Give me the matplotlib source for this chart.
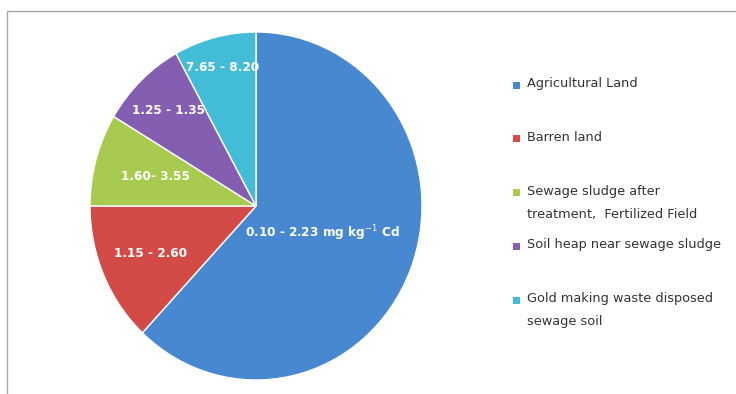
import numpy as np
import matplotlib
matplotlib.use("Agg")
import matplotlib.pyplot as plt
from matplotlib.patches import Rectangle

# data
categories = ["Agricultural Land", "Barren land",
              "Sewage sludge after\ntreatment,  Fertilized Field",
              "Soil heap near sewage sludge",
              "Gold making waste disposed\nsewage soil"]
shares = [62.0, 13.0, 8.6, 8.4, 8.0]
range_labels = ["0.10 - 2.23 mg kg$^{-1}$ Cd", "1.15 - 2.60", "1.60- 3.55",
                "1.25 - 1.35", "7.65 - 8.20"]
colors = ["#4888D0", "#D34B47", "#A8CB4F", "#845FB1", "#42BCD7"]

# how far out each slice label sits (fraction of radius)
label_r = [0.43, 0.69, 0.63, 0.76, 0.82]

W, H = 736, 394
fig = plt.figure(figsize=(W / 100, H / 100), dpi=100)
fig.patch.set_facecolor("white")

# outer chart border (cut off at right and bottom like the source)
fig.patches.append(Rectangle((7 / W, -0.1), 1.2, 1 - 11 / H + 0.1,
                             transform=fig.transFigure, fill=False,
                             edgecolor="#A6A6A6", linewidth=1.0))

# the source pie is slightly stretched vertically
cx, cy, rx, ry = 256, 206, 166, 174
ax = fig.add_axes([(cx - rx) / W, (H - cy - ry) / H, 2 * rx / W, 2 * ry / H])
wedges, _ = ax.pie(shares, colors=colors, startangle=90, counterclock=False,
                   radius=1.0,
                   wedgeprops=dict(edgecolor="white", linewidth=1.0))
ax.set_xlim(-1, 1)
ax.set_ylim(-1, 1)
ax.set_aspect("auto")
ax.axis("off")

for w, lab, rr in zip(wedges, range_labels, label_r):
    mid = np.deg2rad((w.theta1 + w.theta2) / 2)
    ax.text(rr * np.cos(mid), rr * np.sin(mid), lab, ha="center", va="center",
            color="white", fontsize=8.7, fontweight="bold",
            family="DejaVu Sans")

# legend drawn by hand to match the spacing of the source
y0, step = 85, 53.8
for i, (cat, col) in enumerate(zip(categories, colors)):
    y = y0 + step * i
    fig.patches.append(Rectangle((513 / W, 1 - (y + 3.5) / H), 7 / W, 7 / H,
                                 transform=fig.transFigure, facecolor=col,
                                 edgecolor="none"))
    fig.text(527 / W, 1 - (y - 8) / H, cat, ha="left", va="top",
             fontsize=9.3, color="#333333", linespacing=2.0,
             family="DejaVu Sans")

fig.savefig("out.png", dpi=100)
